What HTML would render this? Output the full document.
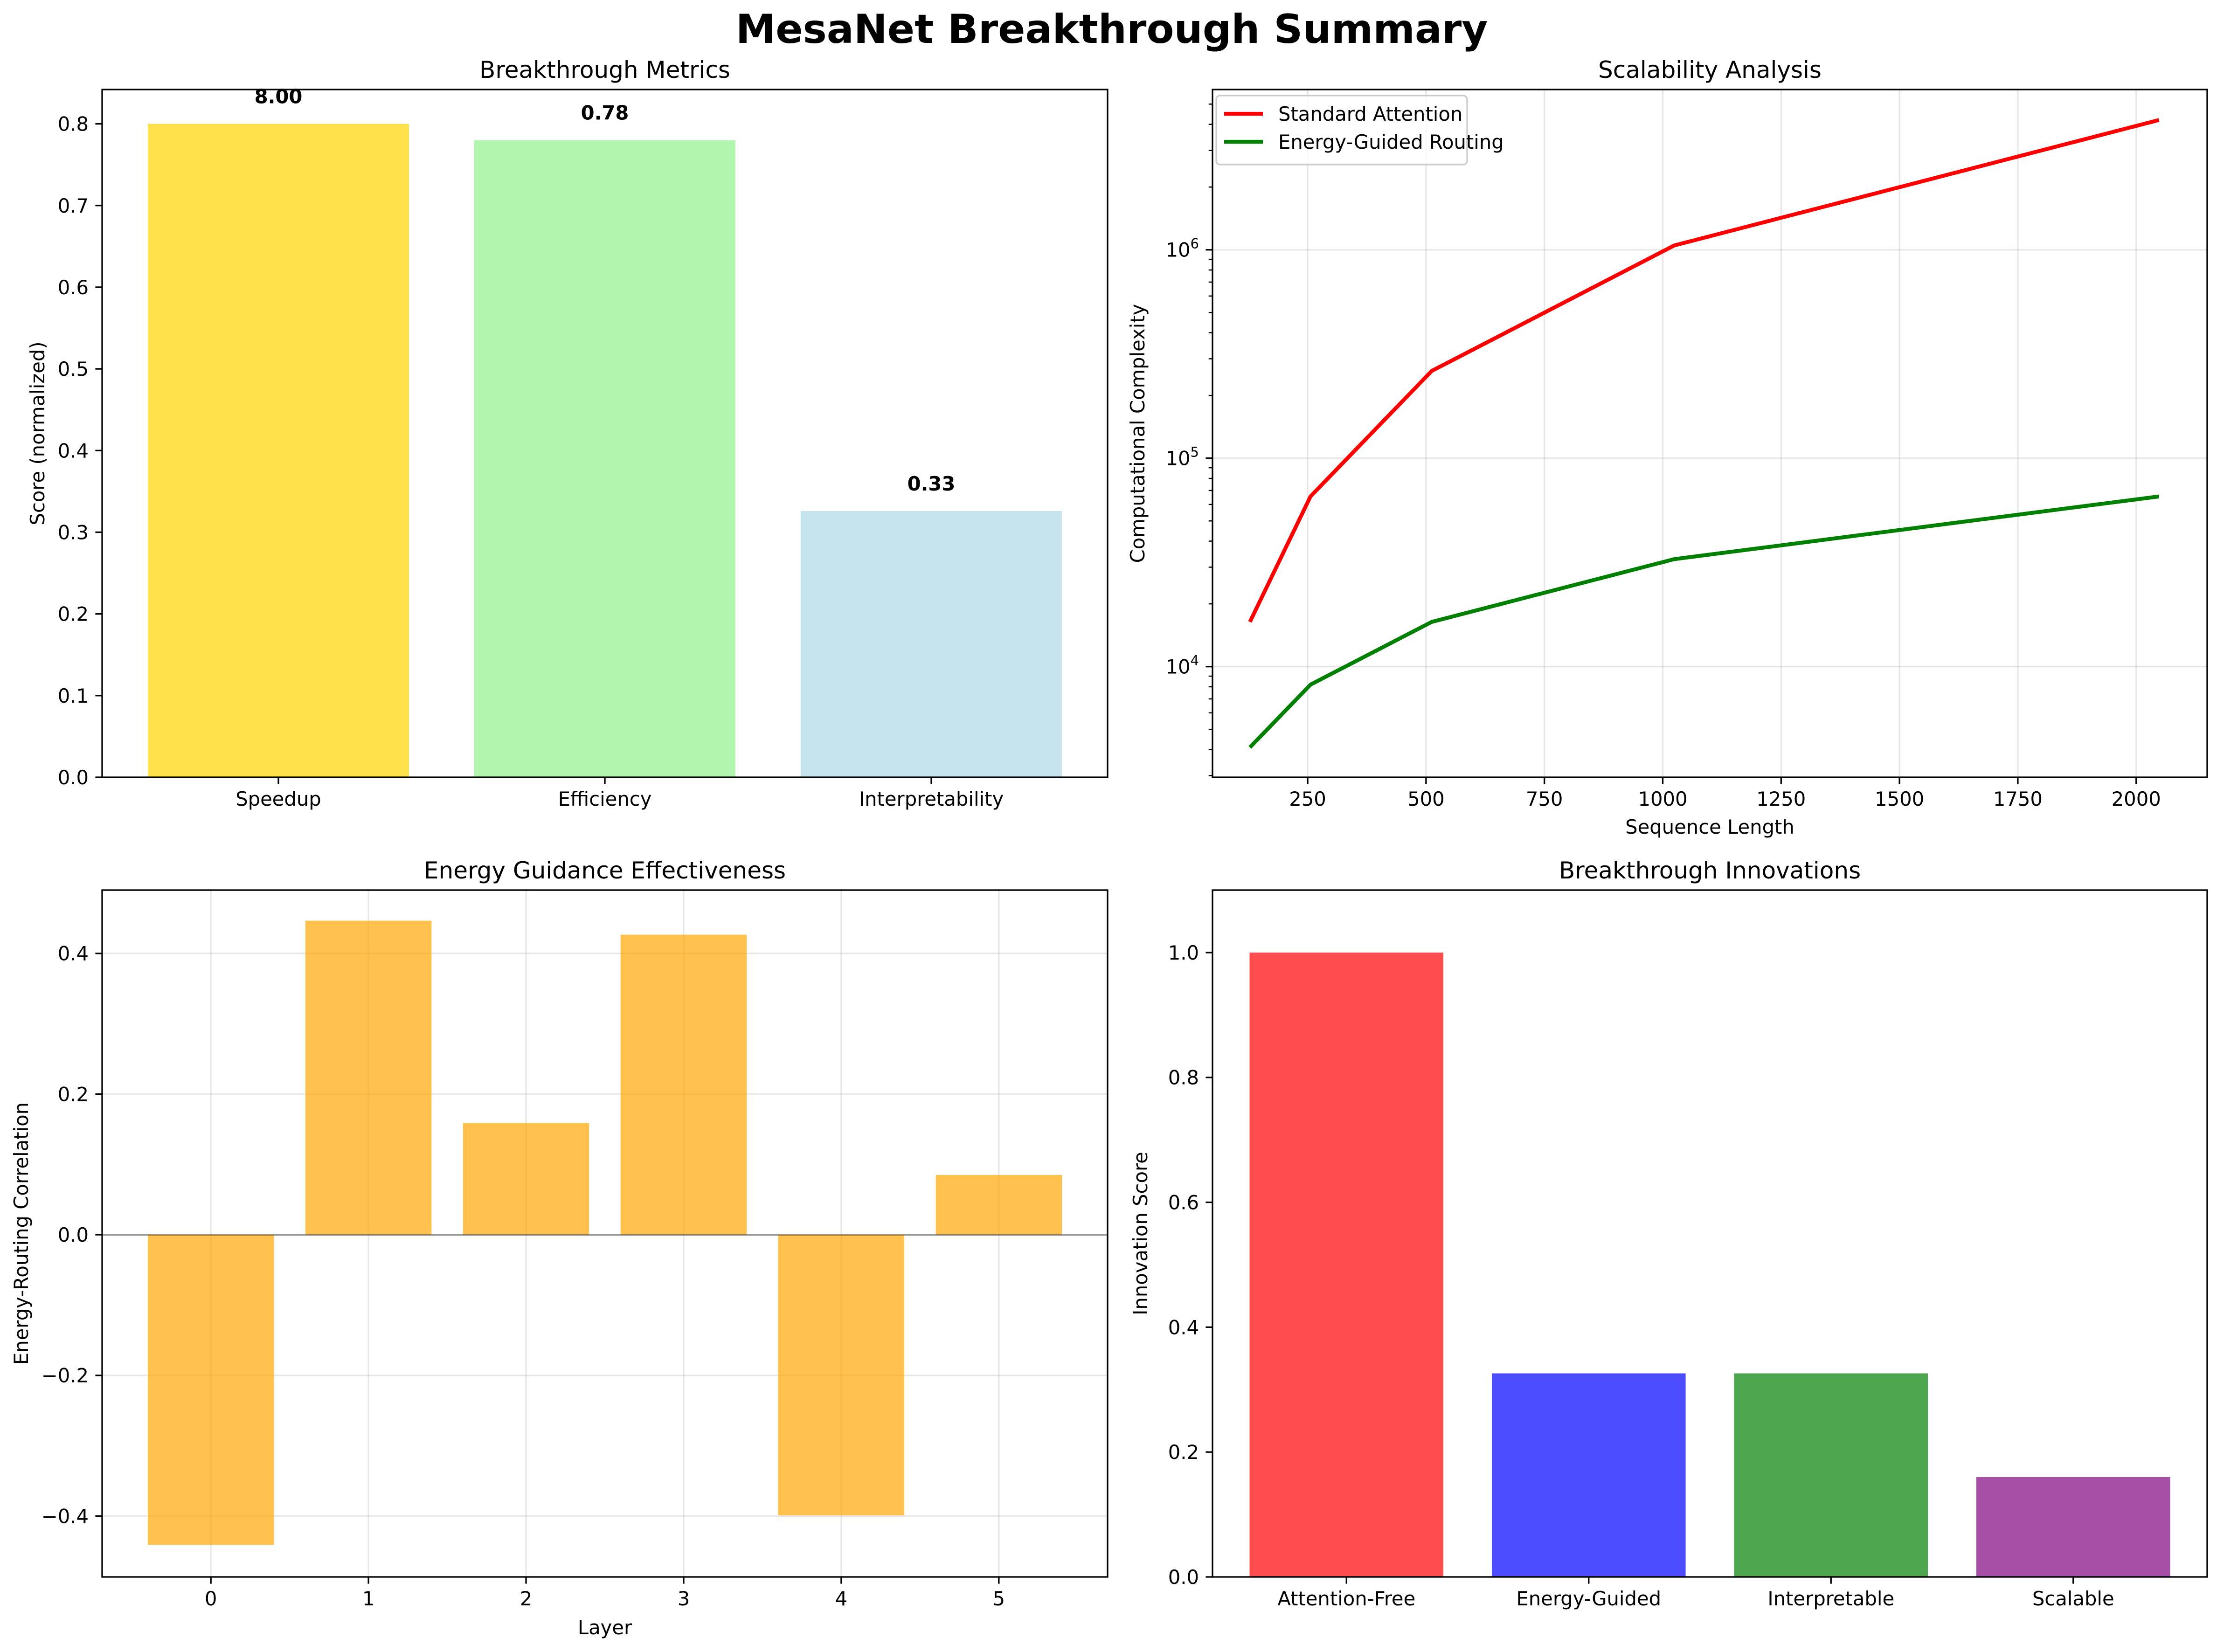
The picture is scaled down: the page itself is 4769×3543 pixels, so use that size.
<!DOCTYPE html>
<html><head><meta charset="utf-8"><style>
html,body{margin:0;padding:0;background:#fff}
svg{display:block}
text{font-family:"DejaVu Sans","Liberation Sans",sans-serif}
</style></head><body>
<svg id="fig" xmlns="http://www.w3.org/2000/svg" width="4769" height="3543" viewBox="0 0 4769 3543">
<rect width="4769" height="3543" fill="#fff"/>
<text x="2384" y="92" text-anchor="middle" font-size="86" font-weight="bold">MesaNet Breakthrough Summary</text>
</svg>
<script>
// ---- data ----
const metricCats = ["Speedup", "Efficiency", "Interpretability"];
const metricVals = [0.8, 0.78, 0.326];
const metricLabels = ["8.00", "0.78", "0.33"];
const metricColors = ["#ffe14d", "#b1f4ae", "#c5e3ec"];
const seqLens = [128, 256, 512, 1024, 2048];
const stdAttn = [16384, 65536, 262144, 1048576, 4194304];
const energyRouting = [4096, 8192, 16384, 32768, 65536];
const layers = [0, 1, 2, 3, 4, 5];
const corrVals = [-0.441, 0.4465, 0.1588, 0.4266, -0.399, 0.085];
const innovCats = ["Attention-Free", "Energy-Guided", "Interpretable", "Scalable"];
const innovVals = [1.0, 0.326, 0.326, 0.16];
const innovColors = ["#ff4d4d", "#4d4dff", "#4da64d", "#a64da6"];
const metricTicks = [0, 0.1, 0.2, 0.3, 0.4, 0.5, 0.6, 0.7, 0.8];
const seqTicks = [250, 500, 750, 1000, 1250, 1500, 1750, 2000];
const corrTicks = [-0.4, -0.2, 0, 0.2, 0.4];
const innovTicks = [0, 0.2, 0.4, 0.6, 0.8, 1.0];

const NS = "http://www.w3.org/2000/svg";
const svg = document.getElementById("fig");
function el(tag, attrs, parent) {
  const e = document.createElementNS(NS, tag);
  for (const k in attrs) e.setAttribute(k, attrs[k]);
  (parent || svg).appendChild(e);
  return e;
}
function txt(s, attrs, name) {
  const t = el("text", attrs);
  t.textContent = s;
  
  
  return t;
}
const FS = 41.7, TL = 14.6, AW = 3.3;
function lin(d0, d1, r0, r1) { return v => r0 + (v - d0) / (d1 - d0) * (r1 - r0); }

function frame(L, R, T, B, name) {
  const r = el("rect", {x: L, y: T, width: R - L, height: B - T, fill: "none", stroke: "#000", "stroke-width": AW});
  
  
}
function yTick(L, y, label, name, sup) {
  const l = el("line", {x1: L - TL, x2: L, y1: y, y2: y, stroke: "#000", "stroke-width": AW});
  
  
  if (sup) {
    const t = txt("", {x: L - 29, y: y + 15, "text-anchor": "end", "font-size": FS}, name + '-label');
    const a = el("tspan", {}, t); a.textContent = "10";
    const b = el("tspan", {dy: -18, "font-size": 29}, t); b.textContent = sup;
  } else {
    txt(label, {x: L - 29, y: y + 15, "text-anchor": "end", "font-size": FS}, name + '-label');
  }
}
function xTick(B, x, label, name) {
  const l = el("line", {x1: x, x2: x, y1: B, y2: B + TL, stroke: "#000", "stroke-width": AW});
  
  
  txt(label, {x: x, y: B + 29 + 32, "text-anchor": "middle", "font-size": FS}, name + '-label');
}
function title(s, L, R, T, name) {
  txt(s, {x: (L + R) / 2, y: T - 25, "text-anchor": "middle", "font-size": 50}, name);
}
function yLabel(s, x, T, B, name) {
  const cy = (T + B) / 2;
  txt(s, {x: x, y: cy, "text-anchor": "middle", "font-size": FS, transform: `rotate(-90 ${x} ${cy})`}, name);
}
function grid(x1, y1, x2, y2, name) {
  const g = el("line", {x1, y1, x2, y2, stroke: "#b0b0b0", "stroke-opacity": 0.3, "stroke-width": 3.3});
  
  
}

// ---- Panel 1: Breakthrough Metrics ----
(function () {
  const L = 219, R = 2375, T = 192, B = 1667;
  const xs = lin(-0.54, 2.54, L, R), ys = lin(0, 0.842, B, T);
  metricCats.forEach((c, i) => {
    const y = ys(metricVals[i]);
    const r = el("rect", {x: xs(i - 0.4), y: y, width: xs(i + 0.4) - xs(i - 0.4), height: B - y, fill: metricColors[i]});
    
    
    txt(metricLabels[i], {x: xs(i), y: y - 44, "text-anchor": "middle", "font-size": FS, "font-weight": "bold"}, 'metric-value-' + c.toLowerCase());
    xTick(B, xs(i), c, 'metric-x-' + c.toLowerCase());
  });
  metricTicks.forEach(v => yTick(L, ys(v), v.toFixed(1), 'metric-y-' + v.toFixed(1)));
  frame(L, R, T, B, 'metrics-axes');
  title("Breakthrough Metrics", L, R, T, 'metrics-title');
  yLabel("Score (normalized)", 95, T, B, 'metrics-y-axis-title');
})();

// ---- Panel 2: Scalability ----
(function () {
  const L = 2600, R = 4733, T = 192, B = 1667;
  const xs = lin(49, 2150, L, R);
  const ys = v => lin(3.469, 6.769, B, T)(Math.log10(v));
  [4, 5, 6].forEach(p => grid(L, ys(Math.pow(10, p)), R, ys(Math.pow(10, p)), 'scal-ygrid-' + p));
  seqTicks.forEach(v => grid(xs(v), T, xs(v), B, 'scal-xgrid-' + v));
  function series(vals, color, name) {
    const p = el("polyline", {points: seqLens.map((n, i) => xs(n) + "," + ys(vals[i])).join(" "), fill: "none", stroke: color, "stroke-width": 8.3, "stroke-linejoin": "round"});
    
    
  }
  series(stdAttn, "#ff0000", 'standard-attention-line');
  series(energyRouting, "#008000", 'energy-routing-line');
  seqTicks.forEach(v => xTick(B, xs(v), String(v), 'scal-x-' + v));
  [4, 5, 6].forEach(p => yTick(L, ys(Math.pow(10, p)), "", 'scal-y-1e' + p, String(p)));
  for (let p = 3; p <= 6; p++) for (let m = 2; m <= 9; m++) {
    const v = m * Math.pow(10, p), y = ys(v);
    if (y < T || y > B) continue;
    const l = el("line", {x1: L - 8.3, x2: L, y1: y, y2: y, stroke: "#000", "stroke-width": 2.5});
    
    
  }
  frame(L, R, T, B, 'scalability-axes');
  title("Scalability Analysis", L, R, T, 'scalability-title');
  yLabel("Computational Complexity", 2454, T, B, 'scalability-y-axis-title');
  txt("Sequence Length", {x: (L + R) / 2, y: 1788, "text-anchor": "middle", "font-size": FS}, 'scalability-x-axis-title');
  const lg = el("rect", {x: 2608, y: 205, width: 538, height: 148, rx: 8, fill: "#fff", "fill-opacity": 0.8, stroke: "#ccc", "stroke-width": 3.3});
  
  
  [["Standard Attention", "#ff0000", 244], ["Energy-Guided Routing", "#008000", 304]].forEach(([s, c, y], i) => {
    const l = el("line", {x1: 2625, x2: 2708, y1: y, y2: y, stroke: c, "stroke-width": 8.3});
    
    
    txt(s, {x: 2741, y: y + 15, "font-size": FS}, 'legend-entry-' + i);
  });
})();

// ---- Panel 3: Energy Guidance Effectiveness ----
(function () {
  const L = 219, R = 2375, T = 1909, B = 3382;
  const xs = lin(-0.69, 5.69, L, R), ys = lin(-0.4866, 0.49, B, T);
  corrTicks.forEach(v => grid(L, ys(v), R, ys(v), 'corr-ygrid'));
  layers.forEach(v => grid(xs(v), T, xs(v), B, 'corr-xgrid'));
  layers.forEach((n, i) => {
    const v = corrVals[i], y0 = ys(0), y1 = ys(v);
    const r = el("rect", {x: xs(n - 0.4), y: Math.min(y0, y1), width: xs(n + 0.4) - xs(n - 0.4), height: Math.abs(y1 - y0), fill: "#ffa500", "fill-opacity": 0.7});
    
    
    xTick(B, xs(n), String(n), 'corr-x-' + n);
  });
  const z = el("line", {x1: L, x2: R, y1: ys(0), y2: ys(0), stroke: "#000", "stroke-opacity": 0.35, "stroke-width": 4.2});
  
  
  corrTicks.forEach(v => yTick(L, ys(v), (v < 0 ? "\u2212" : "") + Math.abs(v).toFixed(1), 'corr-y-' + v));
  frame(L, R, T, B, 'energy-axes');
  title("Energy Guidance Effectiveness", L, R, T, 'energy-title');
  yLabel("Energy-Routing Correlation", 60, T, B, 'energy-y-axis-title');
  txt("Layer", {x: (L + R) / 2, y: 3505, "text-anchor": "middle", "font-size": FS}, 'energy-x-axis-title');
})();

// ---- Panel 4: Breakthrough Innovations ----
(function () {
  const L = 2600, R = 4733, T = 1909, B = 3382;
  const xs = lin(-0.553, 3.553, L, R), ys = lin(0, 1.1, B, T);
  innovCats.forEach((c, i) => {
    const y = ys(innovVals[i]);
    const r = el("rect", {x: xs(i - 0.4), y: y, width: xs(i + 0.4) - xs(i - 0.4), height: B - y, fill: innovColors[i]});
    
    
    xTick(B, xs(i), c, 'innov-x-' + c.toLowerCase());
  });
  innovTicks.forEach(v => yTick(L, ys(v), v.toFixed(1), 'innov-y-' + v.toFixed(1)));
  frame(L, R, T, B, 'innovations-axes');
  title("Breakthrough Innovations", L, R, T, 'innovations-title');
  yLabel("Innovation Score", 2460, T, B, 'innovations-y-axis-title');
})();
</script>
</body></html>
